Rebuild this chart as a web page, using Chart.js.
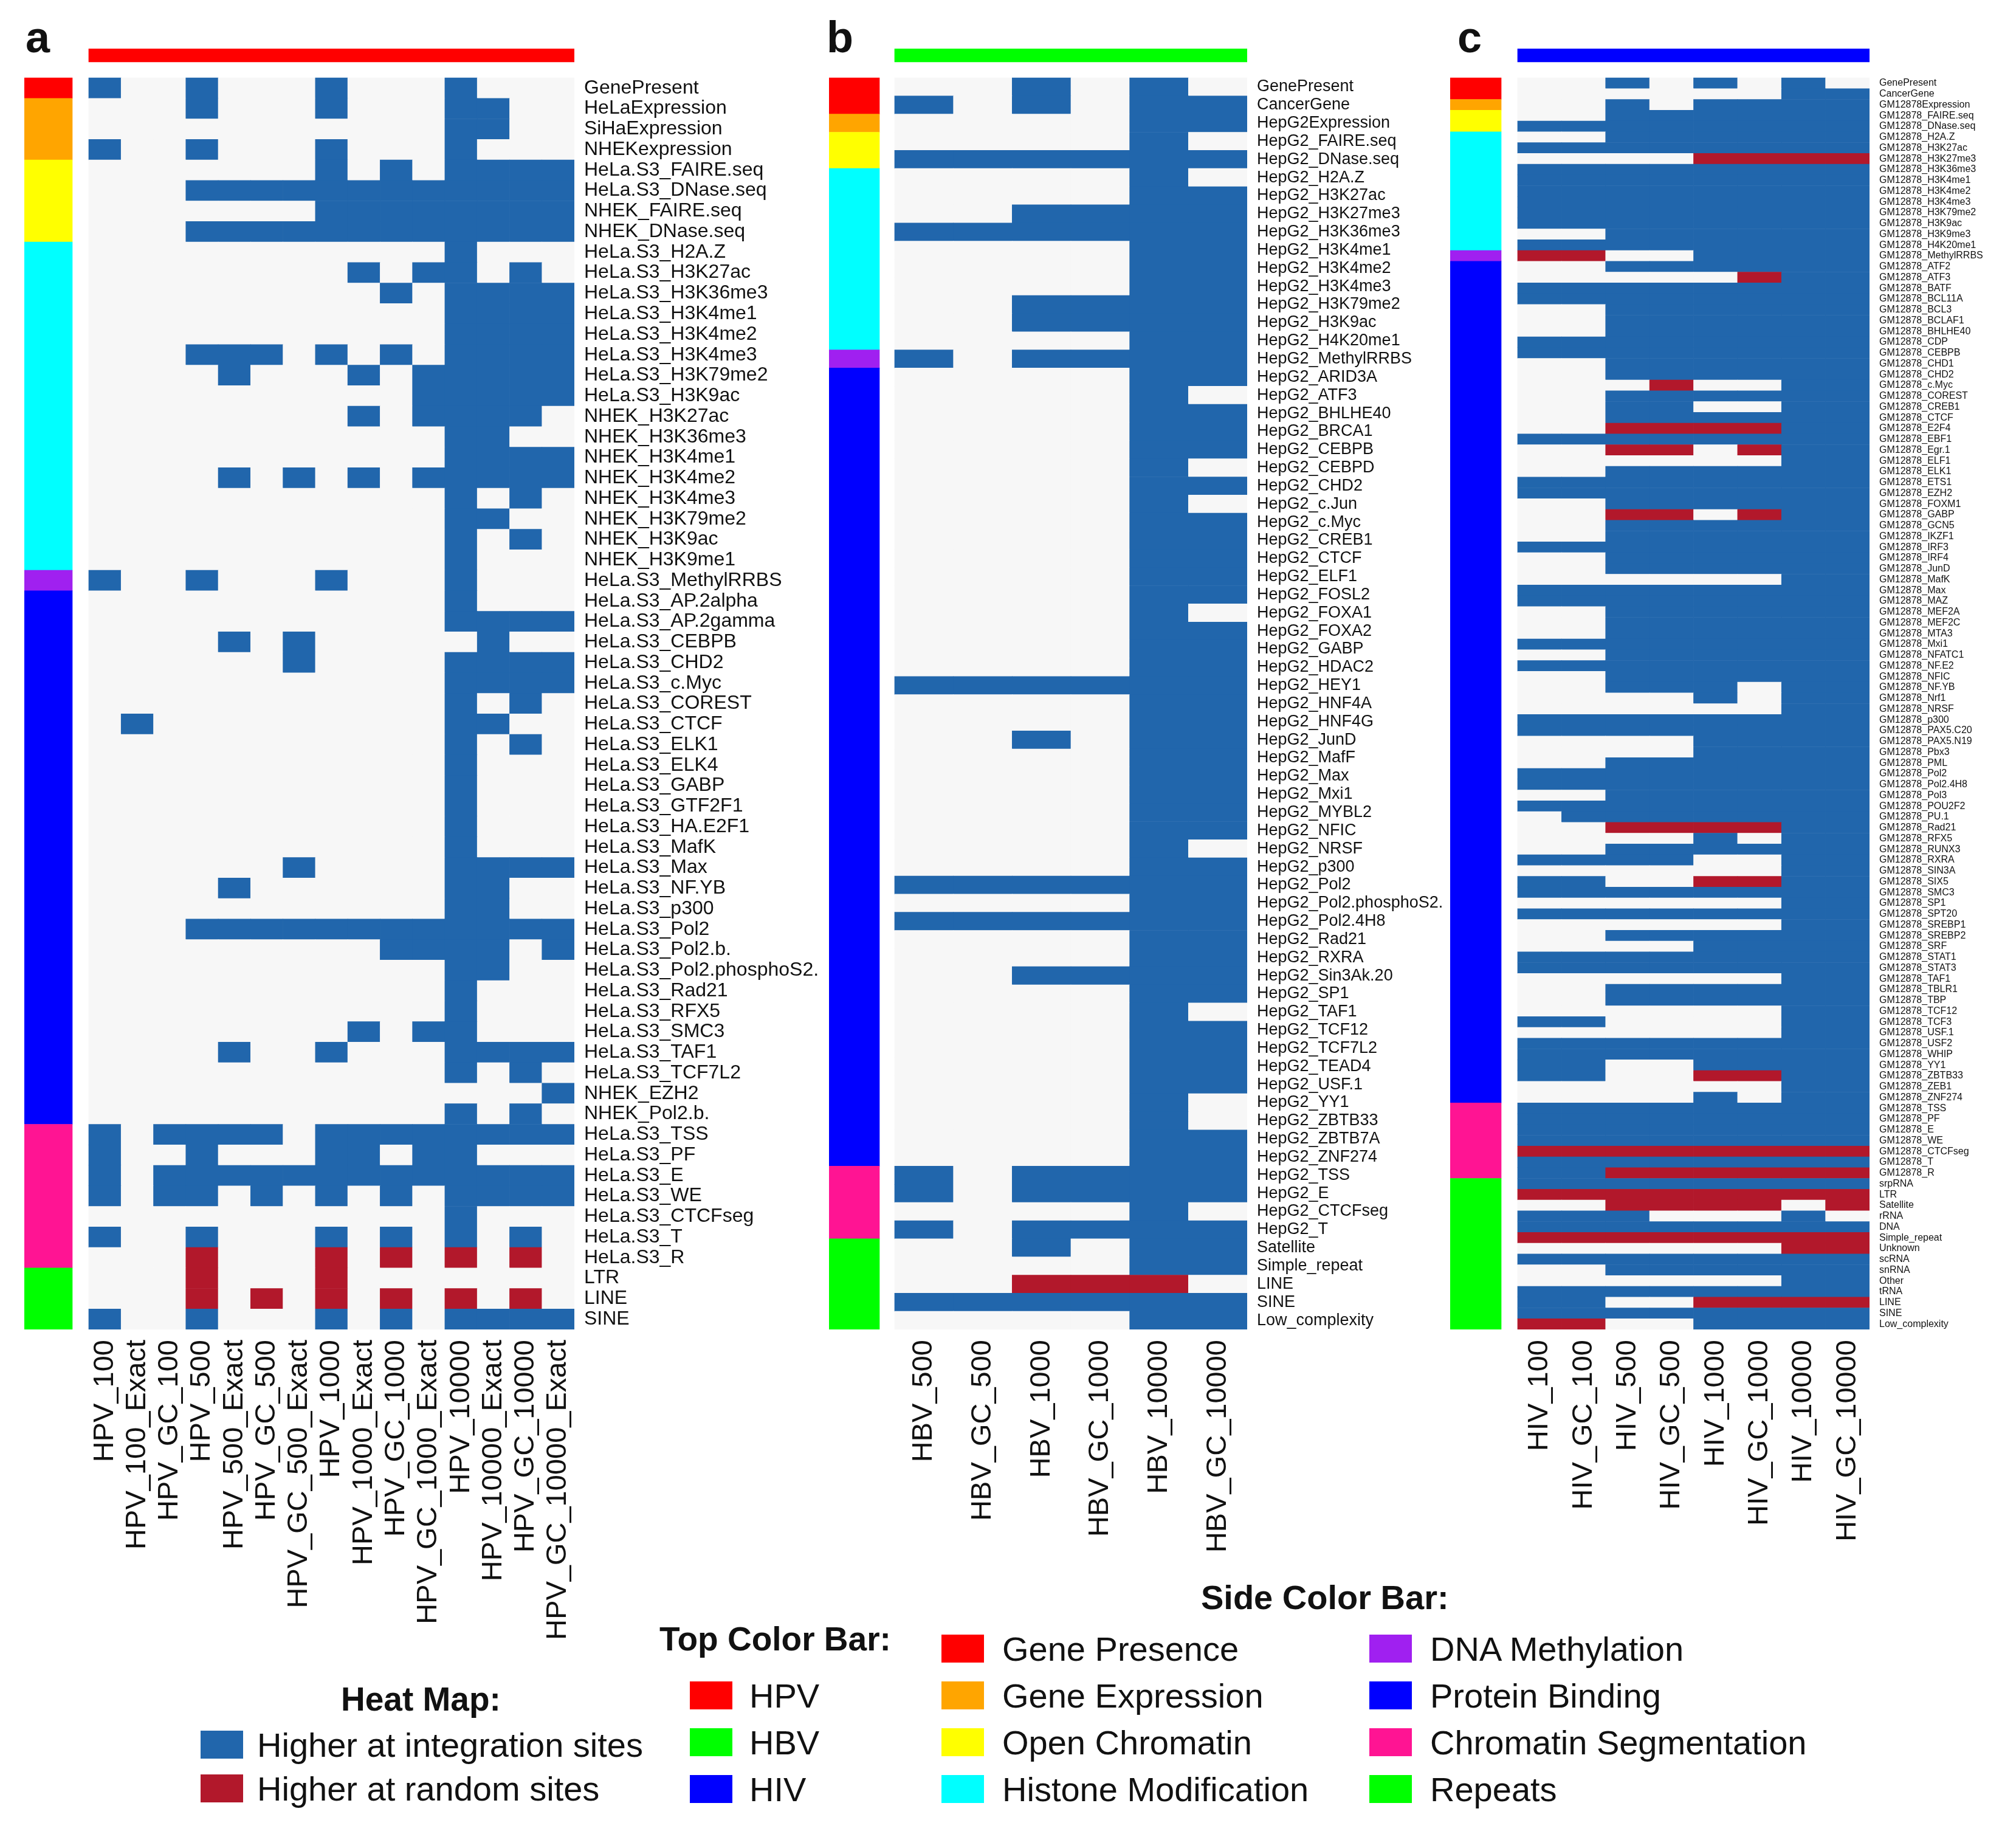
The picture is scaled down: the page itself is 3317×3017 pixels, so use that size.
<!DOCTYPE html>
<html>
<head>
<meta charset="utf-8">
<script src="https://cdn.jsdelivr.net/npm/chart.js@4.4.1/dist/chart.umd.min.js"></script>
<style>
  html, body { margin: 0; padding: 0; background: #fff; }
  #page { position: relative; width: 3317px; height: 3017px; overflow: hidden;
          font-family: "Liberation Sans", Arial, sans-serif; color: #111; }
  #page canvas { position: absolute; top: 0; }
  .t { position: absolute; white-space: nowrap; line-height: 1; }
  .sw { position: absolute; width: 70px; height: 46px; }
</style>
</head>
<body>
<div id="page">
  <canvas id="panelA"></canvas>
  <canvas id="panelB"></canvas>
  <canvas id="panelC"></canvas>
</div>
<script>
// ---- side color bar categories ----
const sideGroups = ['Gene Presence', 'Gene Expression', 'Open Chromatin', 'Histone Modification',
                    'DNA Methylation', 'Protein Binding', 'Chromatin Segmentation', 'Repeats'];
const sideColors = ['#ff0000', '#ffa500', '#ffff00', '#00ffff', '#a020f0', '#0000ff', '#ff1493', '#00ff00'];
const sideCountsA = [1, 3, 4, 16, 1, 26, 7, 3];
const sideCountsB = [2, 1, 2, 10, 1, 44, 4, 5];
const sideCountsC = [2, 1, 2, 11, 1, 78, 7, 14];

// ---- top color bar ----
const virusNames = ['HPV', 'HBV', 'HIV'];
const virusColors = ['#ff0000', '#00ff00', '#0000ff'];

// ---- heat map key: '+' higher at integration sites, '-' higher at random sites, '.' no difference ----
const heatKeys = ['Higher at integration sites', 'Higher at random sites'];
const cellColors = { '+': '#2166ac', '-': '#b2182b', '.': '#f7f7f7' };

// ---- panel a: HPV ----
const colsA = ['HPV_100', 'HPV_100_Exact', 'HPV_GC_100', 'HPV_500', 'HPV_500_Exact', 'HPV_GC_500',
               'HPV_GC_500_Exact', 'HPV_1000', 'HPV_1000_Exact', 'HPV_GC_1000', 'HPV_GC_1000_Exact',
               'HPV_10000', 'HPV_10000_Exact', 'HPV_GC_10000', 'HPV_GC_10000_Exact'];
const rowsA = ['GenePresent', 'HeLaExpression', 'SiHaExpression', 'NHEKexpression',
  'HeLa.S3_FAIRE.seq', 'HeLa.S3_DNase.seq', 'NHEK_FAIRE.seq', 'NHEK_DNase.seq',
  'HeLa.S3_H2A.Z', 'HeLa.S3_H3K27ac', 'HeLa.S3_H3K36me3', 'HeLa.S3_H3K4me1', 'HeLa.S3_H3K4me2',
  'HeLa.S3_H3K4me3', 'HeLa.S3_H3K79me2', 'HeLa.S3_H3K9ac', 'NHEK_H3K27ac', 'NHEK_H3K36me3',
  'NHEK_H3K4me1', 'NHEK_H3K4me2', 'NHEK_H3K4me3', 'NHEK_H3K79me2', 'NHEK_H3K9ac', 'NHEK_H3K9me1',
  'HeLa.S3_MethylRRBS', 'HeLa.S3_AP.2alpha', 'HeLa.S3_AP.2gamma', 'HeLa.S3_CEBPB', 'HeLa.S3_CHD2',
  'HeLa.S3_c.Myc', 'HeLa.S3_COREST', 'HeLa.S3_CTCF', 'HeLa.S3_ELK1', 'HeLa.S3_ELK4', 'HeLa.S3_GABP',
  'HeLa.S3_GTF2F1', 'HeLa.S3_HA.E2F1', 'HeLa.S3_MafK', 'HeLa.S3_Max', 'HeLa.S3_NF.YB', 'HeLa.S3_p300',
  'HeLa.S3_Pol2', 'HeLa.S3_Pol2.b.', 'HeLa.S3_Pol2.phosphoS2.', 'HeLa.S3_Rad21', 'HeLa.S3_RFX5',
  'HeLa.S3_SMC3', 'HeLa.S3_TAF1', 'HeLa.S3_TCF7L2', 'NHEK_EZH2', 'NHEK_Pol2.b.',
  'HeLa.S3_TSS', 'HeLa.S3_PF', 'HeLa.S3_E', 'HeLa.S3_WE', 'HeLa.S3_CTCFseg', 'HeLa.S3_T', 'HeLa.S3_R',
  'LTR', 'LINE', 'SINE'];
const cellsA = [
  '+..+...+...+...', '...+...+...++..', '...........++..', '+..+...+...+...',
  '.......+.+.++++', '...++++++++++++', '.......++++++++', '...++++++++++++',
  '...........+...', '........+.++.+.', '.........+.++++', '...........++++', '...........++++',
  '...+++.+.+.++++', '....+...+.+++++', '..........+++++', '........+.++++.', '...........++..',
  '...........++++', '....+.+.+.+++++', '...........+.+.', '...........++..', '...........+.+.',
  '...........+...',
  '+..+...+...+...',
  '...........+...', '...........++++', '....+.+.....+..', '......+....++++', '...........++++',
  '...........+.+.', '.+.........++..', '...........+.+.', '...........+...', '...........+...',
  '...........+...', '...........+...', '...........+...', '......+....++++', '....+......++..',
  '...........++..', '...++++++++++++', '.........++++.+', '...........++..', '...........+...',
  '...........+...', '........+.++...', '....+..+...++++', '...........+.+.', '..............+',
  '...........+.+.',
  '+.++++.++++++++', '+..+...++.++...', '+.+++++++++++++', '+.++.+.+.+.++++', '...........+...',
  '+..+...+.+.+.+.', '...-...-.-.-.-.',
  '...-...-.......', '...-.-.-.-.-.-.', '+..+...+.+.++++'];

// ---- panel b: HBV ----
const colsB = ['HBV_500', 'HBV_GC_500', 'HBV_1000', 'HBV_GC_1000', 'HBV_10000', 'HBV_GC_10000'];
const rowsB = ['GenePresent', 'CancerGene', 'HepG2Expression', 'HepG2_FAIRE.seq', 'HepG2_DNase.seq',
  'HepG2_H2A.Z', 'HepG2_H3K27ac', 'HepG2_H3K27me3', 'HepG2_H3K36me3', 'HepG2_H3K4me1', 'HepG2_H3K4me2',
  'HepG2_H3K4me3', 'HepG2_H3K79me2', 'HepG2_H3K9ac', 'HepG2_H4K20me1', 'HepG2_MethylRRBS',
  'HepG2_ARID3A', 'HepG2_ATF3', 'HepG2_BHLHE40', 'HepG2_BRCA1', 'HepG2_CEBPB', 'HepG2_CEBPD',
  'HepG2_CHD2', 'HepG2_c.Jun', 'HepG2_c.Myc', 'HepG2_CREB1', 'HepG2_CTCF', 'HepG2_ELF1', 'HepG2_FOSL2',
  'HepG2_FOXA1', 'HepG2_FOXA2', 'HepG2_GABP', 'HepG2_HDAC2', 'HepG2_HEY1', 'HepG2_HNF4A', 'HepG2_HNF4G',
  'HepG2_JunD', 'HepG2_MafF', 'HepG2_Max', 'HepG2_Mxi1', 'HepG2_MYBL2', 'HepG2_NFIC', 'HepG2_NRSF',
  'HepG2_p300', 'HepG2_Pol2', 'HepG2_Pol2.phosphoS2.', 'HepG2_Pol2.4H8', 'HepG2_Rad21', 'HepG2_RXRA',
  'HepG2_Sin3Ak.20', 'HepG2_SP1', 'HepG2_TAF1', 'HepG2_TCF12', 'HepG2_TCF7L2', 'HepG2_TEAD4',
  'HepG2_USF.1', 'HepG2_YY1', 'HepG2_ZBTB33', 'HepG2_ZBTB7A', 'HepG2_ZNF274',
  'HepG2_TSS', 'HepG2_E', 'HepG2_CTCFseg', 'HepG2_T',
  'Satellite', 'Simple_repeat', 'LINE', 'SINE', 'Low_complexity'];
const cellsB = [
  '..+.+.', '+.+.++', '....++', '....+.', '++++++',
  '....+.', '....++', '..++++', '++++++', '....++', '....++', '....++', '..++++', '..++++', '....++',
  '+.++++',
  '....++', '....+.', '....++', '....++', '....++', '....+.', '....++', '....+.', '....++', '....++',
  '....++', '....++', '....++', '....+.', '....++', '....++', '....++', '++++++', '....++', '....++',
  '..+.++', '....++', '....++', '....++', '....++', '....++', '....+.', '....++', '++++++', '....++',
  '++++++', '....++', '....++', '..++++', '....++', '....+.', '....++', '....++', '....++', '....++',
  '....+.', '....+.', '....++', '....++',
  '+.++++', '+.++++', '....+.', '+.++++',
  '..+.++', '....++', '..---.', '++++++', '....++'];

// ---- panel c: HIV ----
const colsC = ['HIV_100', 'HIV_GC_100', 'HIV_500', 'HIV_GC_500', 'HIV_1000', 'HIV_GC_1000',
               'HIV_10000', 'HIV_GC_10000'];
const rowsC = ['GenePresent', 'CancerGene', 'GM12878Expression'].concat([
  'FAIRE.seq', 'DNase.seq', 'H2A.Z', 'H3K27ac', 'H3K27me3', 'H3K36me3', 'H3K4me1', 'H3K4me2',
  'H3K4me3', 'H3K79me2', 'H3K9ac', 'H3K9me3', 'H4K20me1', 'MethylRRBS', 'ATF2', 'ATF3', 'BATF',
  'BCL11A', 'BCL3', 'BCLAF1', 'BHLHE40', 'CDP', 'CEBPB', 'CHD1', 'CHD2', 'c.Myc', 'COREST', 'CREB1',
  'CTCF', 'E2F4', 'EBF1', 'Egr.1', 'ELF1', 'ELK1', 'ETS1', 'EZH2', 'FOXM1', 'GABP', 'GCN5', 'IKZF1',
  'IRF3', 'IRF4', 'JunD', 'MafK', 'Max', 'MAZ', 'MEF2A', 'MEF2C', 'MTA3', 'Mxi1', 'NFATC1', 'NF.E2',
  'NFIC', 'NF.YB', 'Nrf1', 'NRSF', 'p300', 'PAX5.C20', 'PAX5.N19', 'Pbx3', 'PML', 'Pol2', 'Pol2.4H8',
  'Pol3', 'POU2F2', 'PU.1', 'Rad21', 'RFX5', 'RUNX3', 'RXRA', 'SIN3A', 'SIX5', 'SMC3', 'SP1', 'SPT20',
  'SREBP1', 'SREBP2', 'SRF', 'STAT1', 'STAT3', 'TAF1', 'TBLR1', 'TBP', 'TCF12', 'TCF3', 'USF.1',
  'USF2', 'WHIP', 'YY1', 'ZBTB33', 'ZEB1', 'ZNF274', 'TSS', 'PF', 'E', 'WE', 'CTCFseg', 'T', 'R'
].map(s => 'GM12878_' + s), ['srpRNA', 'LTR', 'Satellite', 'rRNA', 'DNA', 'Simple_repeat', 'Unknown',
  'scRNA', 'snRNA', 'Other', 'tRNA', 'LINE', 'SINE', 'Low_complexity']);
const cellsC = [
  '..+.+.+.', '......++', '..+.++++', '..++++++', '++++++++',
  '..++++++', '++++++++', '....----', '++++++++', '++++++++', '++++++++', '++++++++', '++++++++',
  '++++++++', '..++++++', '++++++++',
  '--..++++',
  '..++++++', '.....-++', '++++++++', '++++++++', '..++++++', '..++++++', '..++++++', '++++++++',
  '++++++++', '..++++++', '..++++++', '...-..++', '..++++++', '..++..++', '..++++++', '..----++',
  '++++++++', '..--.-++', '......++', '..++++++', '++++++++', '++++++++', '..++++++', '..--.-++',
  '..++++++', '..++++++', '++++++++', '..++++++', '..++++++', '......++', '++++++++', '++++++++',
  '..++++++', '..++++++', '..++++++', '++++++++', '..++++++', '++++++++', '..++++++', '..+++.++',
  '....+.++', '......++', '++++++++', '++++++++', '....++++', '....++++', '..++++++', '++++++++',
  '++++++++', '..++++++', '++++++++', '.+++++++', '..----++', '....+.++', '..++++++', '++++..++',
  '......++', '++..--++', '++++++++', '......++', '++++++++', '......++', '..++++++', '....++++',
  '++++++++', '++++++++', '......++', '..++++++', '..++++++', '......++', '++....++', '......++',
  '++++++++', '++++++++', '++..++++', '++..--++', '......++', '....+.++',
  '++++++++', '++++++++', '++++++++', '++++++++', '--------', '++++++++', '++------',
  '++++++++', '--------', '..----.-', '+++...+.', '++++++++', '--------', '......--', '++++++++',
  '..++++++', '......++', '++++++++', '++..----', '++++++++', '--..++++'];

// ---- layout (page pixels) ----
const FONT = '"Liberation Sans", Arial, sans-serif';
const TOP_T = 80, TOP_B = 102, HEAT_T = 128, HEAT_B = 2187, CANVAS_H = 2760;

function drawPanel(id, p) {
  const canvas = document.getElementById(id);
  canvas.width = p.w;
  canvas.height = CANVAS_H;
  canvas.style.left = p.left + 'px';

  const nCol = p.cols.length, nRow = p.rows.length;
  const colW = (p.heatR - p.heatL) / nCol;
  const rowH = (HEAT_B - HEAT_T) / nRow;
  const xMin = -(p.heatL - p.sideL) / colW;
  const yMin = -(HEAT_T - TOP_T) / rowH;

  const cellData = [], cellBg = [];
  p.cells.forEach((line, r) => {
    line.split('').forEach((ch, c) => {
      cellData.push({ x: c + 0.5, y: [r, r + 1] });
      cellBg.push(cellColors[ch]);
    });
  });

  const sideData = [], sideBg = [];
  const sideX = ((p.sideL + p.sideR) / 2 - p.heatL) / colW;
  let start = 0;
  p.counts.forEach((n, g) => {
    if (n > 0) {
      sideData.push({ x: sideX, y: [start, start + n] });
      sideBg.push(sideColors[g]);
    }
    start += n;
  });

  new Chart(canvas, {
    type: 'bar',
    data: {
      datasets: [
        { data: cellData, backgroundColor: cellBg, barThickness: colW, grouped: false },
        { data: sideData, backgroundColor: sideBg, barThickness: p.sideR - p.sideL, grouped: false },
        { data: [{ x: nCol / 2, y: [yMin, -(HEAT_T - TOP_B) / rowH] }],
          backgroundColor: p.topColor, barThickness: p.heatR - p.heatL, grouped: false }
      ]
    },
    options: {
      responsive: false,
      animation: false,
      devicePixelRatio: 1,
      layout: { padding: { left: p.sideL - p.left, top: TOP_T, right: 0, bottom: 0 } },
      plugins: { legend: { display: false }, tooltip: { enabled: false } },
      scales: {
        x: {
          type: 'linear', min: xMin, max: nCol, offset: false,
          grid: { display: false, drawTicks: false }, border: { display: false },
          afterBuildTicks: ax => { ax.ticks = p.cols.map((_, i) => ({ value: i + 0.5 })); },
          afterFit: ax => { ax.height = CANVAS_H - HEAT_B; },
          ticks: {
            autoSkip: false, minRotation: 90, maxRotation: 90, padding: 17, color: '#111',
            font: { family: FONT, size: 47 },
            callback: (v, i) => p.cols[i]
          }
        },
        y: {
          type: 'linear', reverse: true, min: yMin, max: nRow, position: 'right',
          grid: { display: false, drawTicks: false }, border: { display: false },
          afterBuildTicks: ax => { ax.ticks = p.rows.map((_, i) => ({ value: i + 0.5 })); },
          afterFit: ax => { ax.width = p.left + p.w - p.heatR; },
          ticks: {
            autoSkip: false, padding: 16, color: '#111',
            font: { family: FONT, size: p.labelSize },
            callback: (v, i) => p.rows[i]
          }
        }
      }
    }
  });
}

drawPanel('panelA', { cols: colsA, rows: rowsA, cells: cellsA, counts: sideCountsA, topColor: virusColors[0],
  left: 0, w: 1370, sideL: 40, sideR: 119, heatL: 146, heatR: 945, labelSize: 32 });
drawPanel('panelB', { cols: colsB, rows: rowsB, cells: cellsB, counts: sideCountsB, topColor: virusColors[1],
  left: 1340, w: 1040, sideL: 1364, sideR: 1447, heatL: 1472, heatR: 2052, labelSize: 27 });
drawPanel('panelC', { cols: colsC, rows: rowsC, cells: cellsC, counts: sideCountsC, topColor: virusColors[2],
  left: 2370, w: 947, sideL: 2386, sideR: 2470, heatL: 2497, heatR: 3076, labelSize: 16 });

// ---- letters and legends ----
const page = document.getElementById('page');
function addText(str, x, baseline, size, bold) {
  const d = document.createElement('div');
  d.className = 't';
  d.textContent = str;
  d.style.left = x + 'px';
  d.style.top = (baseline - 0.8465 * size) + 'px';
  d.style.fontSize = size + 'px';
  if (bold) d.style.fontWeight = 'bold';
  page.appendChild(d);
}
function addItem(swX, cy, color, str, textX) {
  const s = document.createElement('div');
  s.className = 'sw';
  s.style.left = swX + 'px';
  s.style.top = (cy - 23) + 'px';
  s.style.background = color;
  page.appendChild(s);
  addText(str, textX, cy + 20, 56, false);
}

addText('a', 42, 86, 72, true);
addText('b', 1360, 86, 72, true);
addText('c', 2398, 86, 72, true);

addText('Heat Map:', 561, 2815, 55, true);
addItem(330, 2870, cellColors['+'], heatKeys[0], 423);
addItem(330, 2942, cellColors['-'], heatKeys[1], 423);

addText('Top Color Bar:', 1085, 2716, 55, true);
virusNames.forEach((v, i) => addItem(1135, 2789 + i * 77, virusColors[i], v, 1233));

addText('Side Color Bar:', 1976, 2647, 56, true);
sideGroups.forEach((g, i) => {
  const col = Math.floor(i / 4), row = i % 4;
  addItem(col ? 2253 : 1549, 2712 + row * 77, sideColors[i], g, col ? 2353 : 1649);
});
</script>
</body>
</html>
